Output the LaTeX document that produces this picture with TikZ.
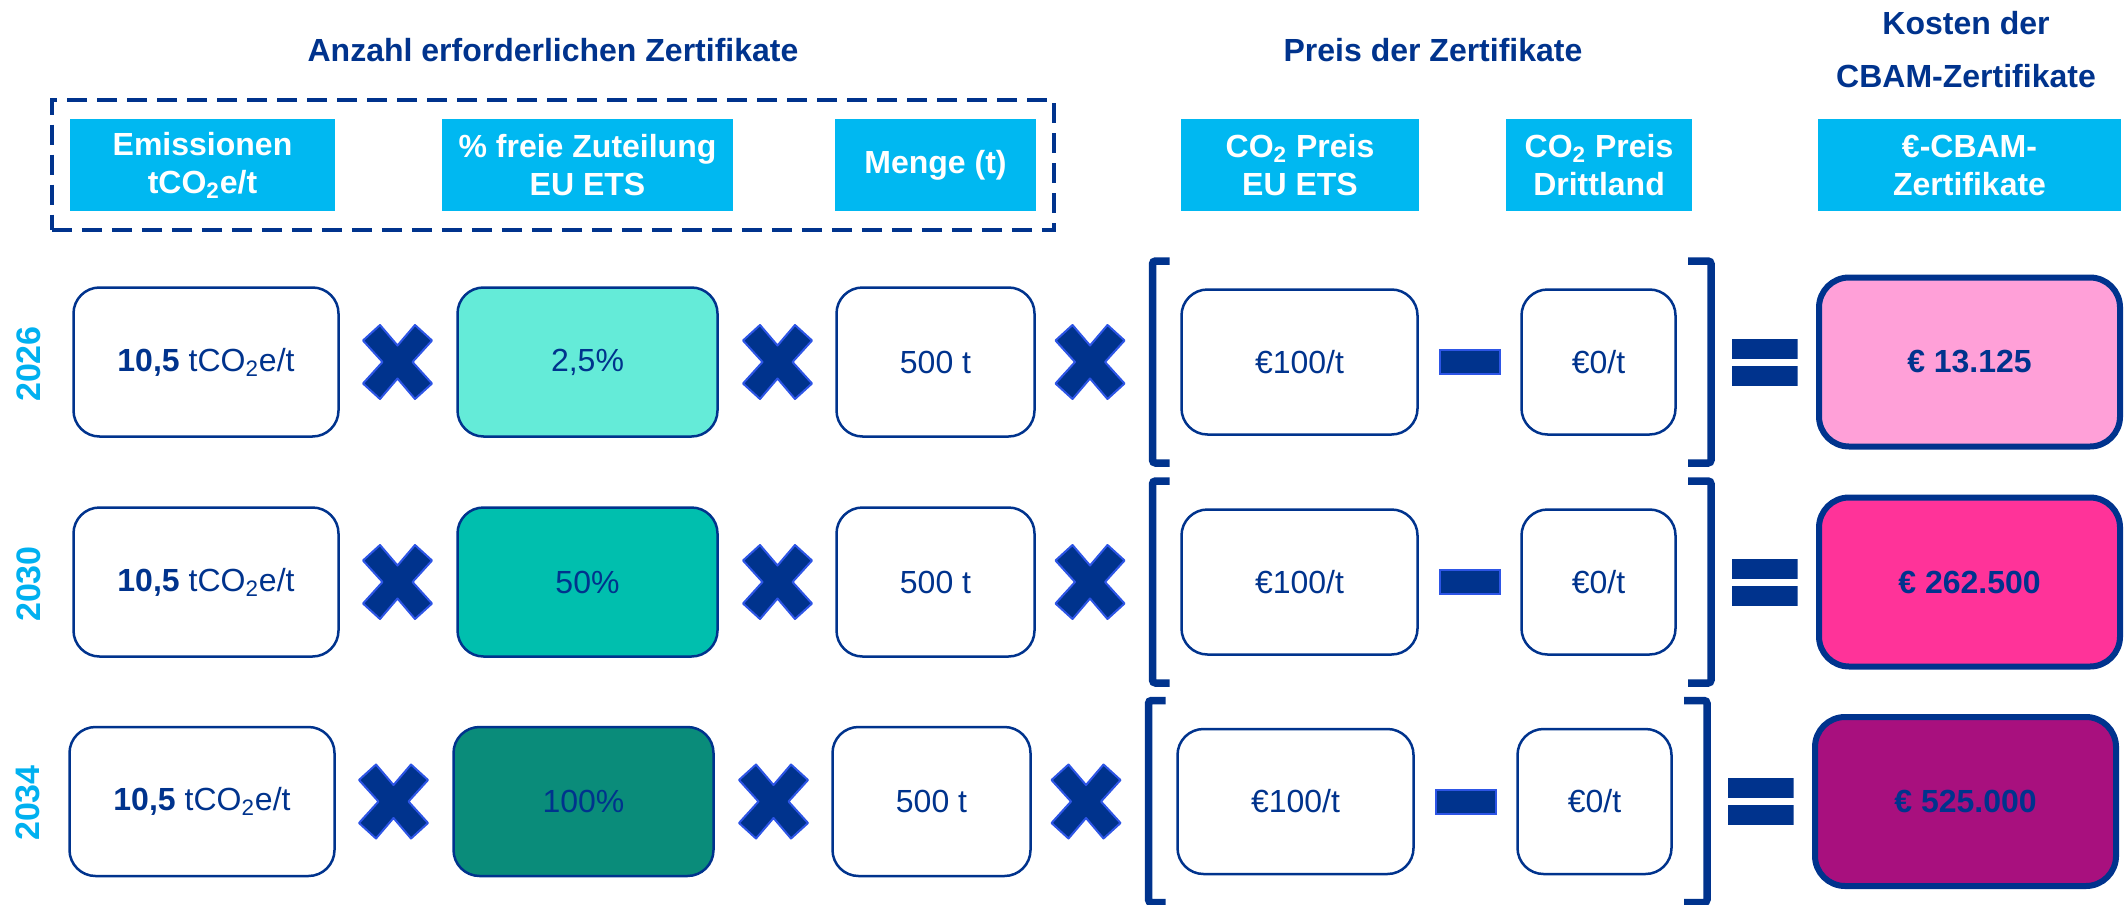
\documentclass[tikz,border=0pt]{standalone}
\usepackage{fontspec}
\setmainfont{Liberation Sans}
\usetikzlibrary{fit}

\definecolor{cbamnavy}{RGB}{0,51,141}
\definecolor{cbamcyan}{RGB}{0,184,241}
\definecolor{cbamyear}{RGB}{0,176,240}
\definecolor{cbamedge}{RGB}{45,85,230}
\definecolor{free26}{RGB}{100,235,216}
\definecolor{free30}{RGB}{0,191,174}
\definecolor{free34}{RGB}{10,140,122}
\definecolor{cost26}{RGB}{255,160,216}
\definecolor{cost30}{RGB}{255,51,153}
\definecolor{cost34}{RGB}{168,16,126}

\tikzstyle{heading} = [text=cbamnavy, font=\fontsize{16}{26.5}\selectfont\bfseries, align=center]
\tikzstyle{headbox} = [rectangle, minimum height=46pt, inner sep=0pt, fill=cbamcyan, text=white, font=\fontsize{16}{19}\selectfont\bfseries, align=center]
\tikzstyle{dashbox} = [rectangle, draw=cbamnavy, line width=1.75pt, dash pattern=on 10pt off 5pt, inner xsep=8.9pt, inner ysep=9.4pt]
\tikzstyle{valbox} = [rectangle, rounded corners=13pt, minimum height=74.5pt, inner sep=0pt, draw=cbamnavy, line width=1.25pt, fill=white, text=cbamnavy, font=\fontsize{16}{19}\selectfont]
\tikzstyle{costbox} = [valbox, rounded corners=15pt, minimum width=150.5pt, minimum height=84.5pt, line width=3pt, font=\fontsize{16}{19}\selectfont\bfseries]
\tikzstyle{yearlabel} = [rotate=90, text=cbamyear, font=\fontsize{17}{20}\selectfont\bfseries]
\tikzstyle{crosssign} = [fill=cbamnavy, draw=cbamedge, line width=1pt, line join=round]
\tikzstyle{minusbar} = [rectangle, minimum width=30pt, minimum height=12pt, inner sep=0pt, fill=cbamnavy, draw=cbamedge, line width=1pt]
\tikzstyle{eqsign} = [rectangle, minimum width=33pt, minimum height=23.5pt, inner sep=0pt,
  path picture={\fill[cbamnavy] (path picture bounding box.north west) rectangle ([yshift=-10pt]path picture bounding box.north east);
    \fill[cbamnavy] (path picture bounding box.south west) rectangle ([yshift=10pt]path picture bounding box.south east);}]
\tikzstyle{bracketline} = [draw=cbamnavy, line width=3.75pt, rounded corners=1.5pt]

% thick multiplication cross centred on a coordinate
\newcommand{\crossat}[1]{\draw[crosssign, shift={(#1)}] (-34.5,-21.5) -- (-17.5,-37) -- (0,-16.5) -- (17.5,-37) -- (34.5,-21.5) -- (15,0) -- (34.5,21.5) -- (17.5,37) -- (0,16.5) -- (-17.5,37) -- (-34.5,21.5) -- (-15,0) -- cycle;}

\begin{document}
\begin{tikzpicture}[x=0.5pt, y=-0.5pt]
\useasboundingbox (0,0) rectangle (2128,904);

% headings
\node (anzahl) [heading] at (553,50) {Anzahl erforderlichen Zertifikate};
\node (preis) [heading] at (1433,50) {Preis der Zertifikate};
\node (kosten) [heading] at (1966,50) {Kosten der\\CBAM-Zertifikate};

% column heads
\node (emish) [headbox, minimum width=132.5pt] at (202.5,165) {Emissionen\\tCO\textsubscript{2}e/t};
\node (freih) [headbox, minimum width=145.5pt] at (587.5,165) {\% freie Zuteilung\\EU ETS};
\node (mengeh) [headbox, minimum width=100.5pt] at (935.5,165) {Menge (t)};
\node (euh) [headbox, minimum width=119pt] at (1300,165) {CO\textsubscript{2} Preis\\EU ETS};
\node (dritth) [headbox, minimum width=93pt] at (1599,165) {CO\textsubscript{2} Preis\\Drittland};
\node (costh) [headbox, minimum width=151.5pt] at (1969.5,165) {€-CBAM-\\Zertifikate};
\node (group) [dashbox, fit=(emish)(freih)(mengeh)] {};

% 2026
\node (y2026) [yearlabel] at (29,364) {2026};
\node (emis1) [valbox, minimum width=132.5pt] at (206,362) {\textbf{10,5} tCO\textsubscript{2}e/t};
\path (emis1.center) ++(191.5,0) coordinate (mul1a);
\node (free1) [valbox, fill=free26, minimum width=130pt, right of=mul1a, node distance=95pt] {2,5\%};
\path (free1.center) ++(190,0) coordinate (mul1b);
\node (menge1) [valbox, minimum width=99pt, right of=mul1b, node distance=79pt] {500 t};
\path (menge1.center) ++(154.5,0) coordinate (mul1c);
\node (eu1) [valbox, minimum width=118pt, minimum height=72.5pt, right of=mul1c, node distance=104.75pt] {€100/t};
\node (sub1) [minusbar, right of=eu1, node distance=85.25pt] {};
\node (dritt1) [valbox, minimum width=77pt, minimum height=72.5pt, right of=sub1, node distance=64.25pt] {€0/t};
\node (eq1) [eqsign, right of=dritt1, node distance=83pt] {};
\node (cost1) [costbox, fill=cost26, right of=eq1, node distance=102.5pt] {€ 13.125};
\path (eu1.center) ++(-147,0) coordinate (open1);
\path (dritt1.center) ++(112.5,0) coordinate (close1);
\crossat{mul1a} \crossat{mul1b} \crossat{mul1c}
\draw[bracketline, shift={(open1)}] (17,-101) -- (0,-101) -- (0,101) -- (17,101);
\draw[bracketline, shift={(close1)}] (-23,-101) -- (0,-101) -- (0,101) -- (-23,101);

% 2030
\node (y2030) [yearlabel] at (29,584) {2030};
\node (emis2) [valbox, minimum width=132.5pt] at (206,582) {\textbf{10,5} tCO\textsubscript{2}e/t};
\path (emis2.center) ++(191.5,0) coordinate (mul2a);
\node (free2) [valbox, fill=free30, minimum width=130pt, right of=mul2a, node distance=95pt] {50\%};
\path (free2.center) ++(190,0) coordinate (mul2b);
\node (menge2) [valbox, minimum width=99pt, right of=mul2b, node distance=79pt] {500 t};
\path (menge2.center) ++(154.5,0) coordinate (mul2c);
\node (eu2) [valbox, minimum width=118pt, minimum height=72.5pt, right of=mul2c, node distance=104.75pt] {€100/t};
\node (sub2) [minusbar, right of=eu2, node distance=85.25pt] {};
\node (dritt2) [valbox, minimum width=77pt, minimum height=72.5pt, right of=sub2, node distance=64.25pt] {€0/t};
\node (eq2) [eqsign, right of=dritt2, node distance=83pt] {};
\node (cost2) [costbox, fill=cost30, right of=eq2, node distance=102.5pt] {€ 262.500};
\path (eu2.center) ++(-147,0) coordinate (open2);
\path (dritt2.center) ++(112.5,0) coordinate (close2);
\crossat{mul2a} \crossat{mul2b} \crossat{mul2c}
\draw[bracketline, shift={(open2)}] (17,-101) -- (0,-101) -- (0,101) -- (17,101);
\draw[bracketline, shift={(close2)}] (-23,-101) -- (0,-101) -- (0,101) -- (-23,101);

% 2034
\node (y2034) [yearlabel] at (28,803) {2034};
\node (emis3) [valbox, minimum width=132.5pt] at (202,801.5) {\textbf{10,5} tCO\textsubscript{2}e/t};
\path (emis3.center) ++(191.5,0) coordinate (mul3a);
\node (free3) [valbox, fill=free34, minimum width=130pt, right of=mul3a, node distance=95pt] {100\%};
\path (free3.center) ++(190,0) coordinate (mul3b);
\node (menge3) [valbox, minimum width=99pt, right of=mul3b, node distance=79pt] {500 t};
\path (menge3.center) ++(154.5,0) coordinate (mul3c);
\node (eu3) [valbox, minimum width=118pt, minimum height=72.5pt, right of=mul3c, node distance=104.75pt] {€100/t};
\node (sub3) [minusbar, right of=eu3, node distance=85.25pt] {};
\node (dritt3) [valbox, minimum width=77pt, minimum height=72.5pt, right of=sub3, node distance=64.25pt] {€0/t};
\node (eq3) [eqsign, right of=dritt3, node distance=83pt] {};
\node (cost3) [costbox, fill=cost34, right of=eq3, node distance=102.5pt] {€ 525.000};
\path (eu3.center) ++(-147,0) coordinate (open3);
\path (dritt3.center) ++(112.5,0) coordinate (close3);
\crossat{mul3a} \crossat{mul3b} \crossat{mul3c}
\draw[bracketline, shift={(open3)}] (17,-101) -- (0,-101) -- (0,101) -- (17,101);
\draw[bracketline, shift={(close3)}] (-23,-101) -- (0,-101) -- (0,101) -- (-23,101);
\end{tikzpicture}
\end{document}
